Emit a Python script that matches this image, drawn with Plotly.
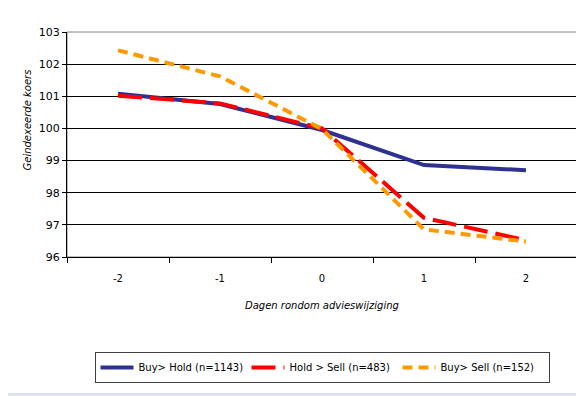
import plotly.graph_objects as go

days = [-2, -1, 0, 1, 2]
tick_labels = ["-2", "-1", "0", "1", "2"]
buy_hold = [101.08, 100.76, 99.95, 98.86, 98.70]
hold_sell = [101.02, 100.78, 100.0, 97.22, 96.52]
buy_sell = [102.43, 101.62, 99.98, 96.86, 96.48]

FONT = "DejaVu Sans"
W, H = 576, 388
L, R, T, B = 59, 7, 24, 139
PW, PH = W - L - R, H - T - B

fig = go.Figure()
fig.add_trace(go.Scatter(x=days, y=buy_hold, mode="lines", name="Buy> Hold (n=1143)",
                         line=dict(color="#2E3192", width=4)))
fig.add_trace(go.Scatter(x=days, y=hold_sell, mode="lines", name="Hold > Sell (n=483)",
                         line=dict(color="#FF0000", width=4, dash="24px,8px")))
fig.add_trace(go.Scatter(x=days, y=buy_sell, mode="lines", name="Buy> Sell (n=152)",
                         line=dict(color="#FF9900", width=4, dash="10px,6px")))

fig.update_layout(
    width=W, height=H,
    margin=dict(l=L, r=R, t=T, b=B, autoexpand=False),
    paper_bgcolor="white", plot_bgcolor="white",
    font=dict(family=FONT, size=10, color="black"),
    showlegend=True,
    legend=dict(orientation="h", x=0.5, xanchor="center", y=-(344 - (T + PH)) / PH, yanchor="top",
                bordercolor="#404040", borderwidth=1, font=dict(size=10, family=FONT),
                itemwidth=33, entrywidthmode="pixels", entrywidth=103),
)
fig.update_xaxes(
    range=[-2.5, 2.5], tickvals=days, ticktext=tick_labels, ticks="",
    showgrid=False, zeroline=False, automargin=False,
    showline=True, linecolor="#000000", linewidth=1,
    minor=dict(tickvals=[-2.5, -1.5, -0.5, 0.5, 1.5, 2.5], ticks="outside", ticklen=5,
               tickcolor="#000000", showgrid=False),
    tickfont=dict(size=10), ticklabelstandoff=12,
)
fig.update_yaxes(
    range=[96, 103], dtick=1, ticks="outside", ticklen=4, tickcolor="#000000",
    showgrid=True, gridcolor="#000000", gridwidth=1, zeroline=False, automargin=False,
    showline=True, linecolor="#000000", linewidth=1,
    tickfont=dict(size=11),
)
fig.add_annotation(text="<i>Geindexeerde koers</i>", xref="paper", yref="paper",
                   x=(12 - L) / PW, y=(T + PH - 112) / PH, textangle=-90, showarrow=False,
                   font=dict(size=10, family=FONT))
fig.add_annotation(text="<i>Dagen rondom advieswijziging</i>", xref="paper", yref="paper",
                   x=0.5, y=-(305 - (T + PH)) / PH, showarrow=False,
                   font=dict(size=10, family=FONT))
fig.add_shape(type="rect", xref="paper", yref="paper", x0=0, x1=1, y0=0, y1=1,
              line=dict(color="#808080", width=1), layer="below")
fig.add_shape(type="rect", xref="paper", yref="paper", x0=-0.2, x1=1.1,
              y0=-(H + 5 - (T + PH)) / PH, y1=-(385 - (T + PH)) / PH,
              line=dict(width=0), fillcolor="#DDE3EA", layer="below")

fig.write_html("out.html")
